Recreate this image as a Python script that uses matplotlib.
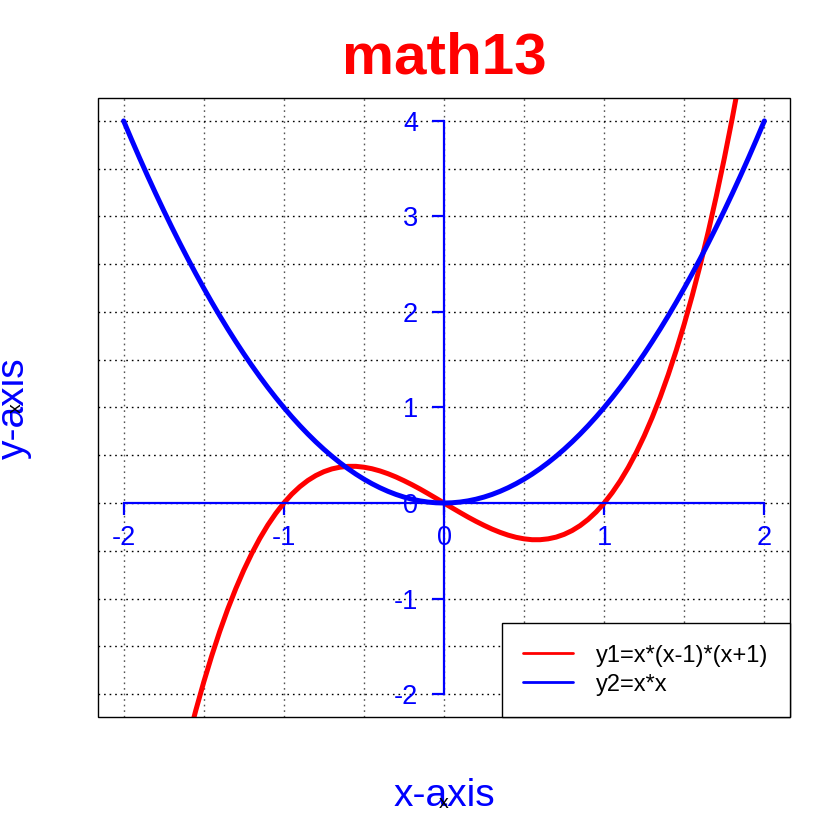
import numpy as np
import matplotlib
matplotlib.use("Agg")
import matplotlib.pyplot as plt
from matplotlib.patches import Rectangle

plt.rcParams['font.family'] = ['Liberation Sans', 'DejaVu Sans']
plt.rcParams['axes.unicode_minus'] = False

# values, step 0.05 from -2 to 2
x = [-2.0, -1.95, -1.9, -1.85, -1.8, -1.75, -1.7, -1.65, -1.6, -1.55,
     -1.5, -1.45, -1.4, -1.35, -1.3, -1.25, -1.2, -1.15, -1.1, -1.05,
     -1.0, -0.95, -0.9, -0.85, -0.8, -0.75, -0.7, -0.65, -0.6, -0.55,
     -0.5, -0.45, -0.4, -0.35, -0.3, -0.25, -0.2, -0.15, -0.1, -0.05,
     0.0, 0.05, 0.1, 0.15, 0.2, 0.25, 0.3, 0.35, 0.4, 0.45,
     0.5, 0.55, 0.6, 0.65, 0.7, 0.75, 0.8, 0.85, 0.9, 0.95,
     1.0, 1.05, 1.1, 1.15, 1.2, 1.25, 1.3, 1.35, 1.4, 1.45,
     1.5, 1.55, 1.6, 1.65, 1.7, 1.75, 1.8, 1.85, 1.9, 1.95, 2.0]
y1 = [-6.0, -5.465, -4.959, -4.482, -4.032, -3.609, -3.213, -2.842, -2.496, -2.174,
      -1.875, -1.599, -1.344, -1.110, -0.897, -0.703, -0.528, -0.371, -0.231, -0.108,
      0.0, 0.093, 0.171, 0.236, 0.288, 0.328, 0.357, 0.375, 0.384, 0.384,
      0.375, 0.359, 0.336, 0.307, 0.273, 0.234, 0.192, 0.147, 0.099, 0.050,
      0.0, -0.050, -0.099, -0.147, -0.192, -0.234, -0.273, -0.307, -0.336, -0.359,
      -0.375, -0.384, -0.384, -0.375, -0.357, -0.328, -0.288, -0.236, -0.171, -0.093,
      0.0, 0.108, 0.231, 0.371, 0.528, 0.703, 0.897, 1.110, 1.344, 1.599,
      1.875, 2.174, 2.496, 2.842, 3.213, 3.609, 4.032, 4.482, 4.959, 5.465, 6.0]
y2 = [4.0, 3.8025, 3.61, 3.4225, 3.24, 3.0625, 2.89, 2.7225, 2.56, 2.4025,
      2.25, 2.1025, 1.96, 1.8225, 1.69, 1.5625, 1.44, 1.3225, 1.21, 1.1025,
      1.0, 0.9025, 0.81, 0.7225, 0.64, 0.5625, 0.49, 0.4225, 0.36, 0.3025,
      0.25, 0.2025, 0.16, 0.1225, 0.09, 0.0625, 0.04, 0.0225, 0.01, 0.0025,
      0.0, 0.0025, 0.01, 0.0225, 0.04, 0.0625, 0.09, 0.1225, 0.16, 0.2025,
      0.25, 0.3025, 0.36, 0.4225, 0.49, 0.5625, 0.64, 0.7225, 0.81, 0.9025,
      1.0, 1.1025, 1.21, 1.3225, 1.44, 1.5625, 1.69, 1.8225, 1.96, 2.1025,
      2.25, 2.4025, 2.56, 2.7225, 2.89, 3.0625, 3.24, 3.4225, 3.61, 3.8025, 4.0]

xticks = [-2, -1, 0, 1, 2]
yticks = [-2, -1, 0, 1, 2, 3, 4]
xgrid = [-2, -1.5, -1, -0.5, 0, 0.5, 1, 1.5, 2]
ygrid = [-2, -1.5, -1, -0.5, 0, 0.5, 1, 1.5, 2, 2.5, 3, 3.5, 4]
labels = ['y1=x*(x-1)*(x+1)', 'y2=x*x']

fig = plt.figure(figsize=(8.4, 8.4), dpi=100)
ax = fig.add_axes([98/840, 123/840, 692/840, 619/840])
ax.set_xlim(-2.16, 2.16)
ax.set_ylim(-2.24, 4.24)

ax.plot(x, y1, color='red', lw=3.6, label=labels[0],
        solid_joinstyle='round', solid_capstyle='round')
ax.plot(x, y2, color='blue', lw=3.6, label=labels[1],
        solid_joinstyle='round', solid_capstyle='round')

# grid every 0.5
ax.set_xticks(xgrid, minor=True)
ax.set_yticks(ygrid, minor=True)
ax.xaxis.grid(True, which='both', color='#555555', ls=(0, (1.2, 2.8)), lw=1.0)
ax.yaxis.grid(True, which='both', color='black', ls=(0, (1.2, 2.8)), lw=1.0)
ax.set_axisbelow(True)

# axes through the origin
for s in ['top', 'right']:
    ax.spines[s].set_visible(False)
ax.spines['bottom'].set_position(('data', 0))
ax.spines['left'].set_position(('data', 0))
ax.spines['bottom'].set_bounds(-2, 2)
ax.spines['left'].set_bounds(-2, 4)
for s in ['bottom', 'left']:
    ax.spines[s].set_color('blue')
    ax.spines[s].set_linewidth(1.6)
    ax.spines[s].set_zorder(2.5)
ax.set_xticks(xticks)
ax.set_yticks(yticks)
ax.tick_params(which='major', direction='out', length=8.6, width=1.6,
               color='blue', labelcolor='blue', labelsize=19.5)
ax.tick_params(axis='x', which='major', pad=7.5)
ax.tick_params(axis='y', which='major', pad=10)
ax.tick_params(which='minor', length=0)

# outer box
ax.add_patch(Rectangle((0, 0), 1, 1, transform=ax.transAxes, fill=False,
                       edgecolor='black', lw=1.0, clip_on=False, zorder=3))

leg = ax.legend(loc='lower right', borderaxespad=0, fancybox=False,
                framealpha=1, edgecolor='black', fontsize=17,
                handlelength=2.1, handletextpad=1.0, borderpad=0.9,
                labelspacing=0.3)
leg.get_frame().set_linewidth(1.0)
for ln in leg.get_lines():
    ln.set_linewidth(2.0)

fig.text(444/840, 1 - 73/840, 'math13', ha='center', va='baseline',
         color='red', fontsize=42, fontweight='bold')
fig.text(444/840, 1 - 796/840, 'x-axis', ha='center', va='center',
         color='blue', fontsize=28)
fig.text(444/840, 1 - 803/840, 'x', ha='center', va='center',
         color='black', fontsize=14)
fig.text(14/840, 1 - 408/840, 'y-axis', ha='center', va='center',
         color='blue', fontsize=28, rotation=90)
fig.text(16/840, 1 - 408/840, 'x', ha='center', va='center',
         color='black', fontsize=14, rotation=90)

fig.savefig('out.png', dpi=100)
